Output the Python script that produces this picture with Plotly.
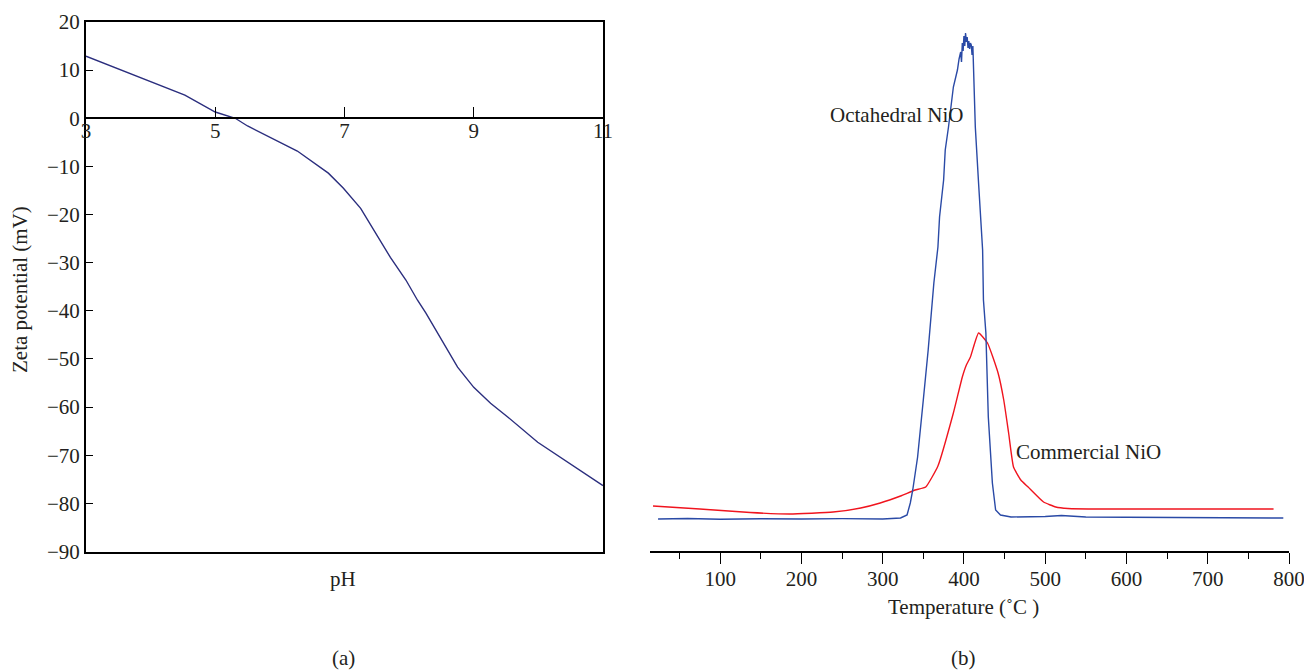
import plotly.graph_objects as go

# ---------------- Data ----------------
# (a) Zeta potential vs pH
ph = [3.0, 4.53, 5.0, 5.31, 5.5, 6.27, 6.75, 6.98, 7.25, 7.71, 7.95, 8.13, 8.26,
      8.75, 9.0, 9.26, 9.53, 9.99, 11.0]
zeta = [12.9, 4.8, 1.3, 0.0, -1.6, -6.8, -11.4, -14.5, -18.7, -28.9, -33.6, -37.8,
        -40.5, -51.7, -55.9, -59.2, -62.1, -67.3, -76.3]
ph_ticks = [3, 5, 7, 9, 11]
zeta_ticks = [-90, -80, -70, -60, -50, -40, -30, -20, -10, 0, 10, 20]

# (b) TPR profiles (arbitrary intensity units)
temp_oct = [23.6, 60, 100, 150, 200, 250, 300, 322, 330, 334, 337, 343, 350, 356,
            363, 366, 368, 370, 375, 377, 381, 387, 392, 394, 396, 397, 398, 399,
            400, 401, 402, 403, 404, 405, 406, 407, 408, 409, 410, 411, 412, 414,
            418, 423, 424, 427, 430, 435, 439, 445, 458, 500, 520, 550, 600, 650,
            700, 750, 793]
int_oct = [32, 32.5, 31.8, 32.3, 32, 32.4, 32, 33, 36, 48, 61, 94, 151, 201,
           268, 292, 304, 334, 371, 401, 424, 464, 481, 492, 499, 489, 508, 500,
           515, 505, 518, 509, 514, 503, 510, 502, 508, 506, 496, 505, 471, 424,
           368, 301, 251, 218, 134, 68, 41, 36, 34, 34.5, 35.5, 34, 33.8, 33.5,
           33.6, 33.4, 33]
temp_com = [17.4, 75, 137, 186, 239, 273, 297, 322, 340, 353, 368, 387, 398, 403,
            408, 418, 429, 442, 449, 455, 461, 470, 479, 498, 513, 528, 569, 692, 781]
int_com = [45, 42, 38.5, 37, 39, 43, 48, 55, 61, 64, 85, 138, 174, 186,
           194, 218, 208, 178, 151, 118, 84, 71, 64, 49, 44, 42.5, 42, 42, 42]
temp_ticks = [100, 200, 300, 400, 500, 600, 700, 800]
temp_minor = [50, 150, 250, 350, 450, 550, 650, 750]

# ---------------- Layout geometry ----------------
W, H = 1304, 671
FONT = "Liberation Serif"
FS = 21
TXT = "#231f20"

def fx(px):
    return px / W

def fy(py):
    return 1 - py / H

ya_dom = [fy(551.5), fy(22)]
y_range = [-90, 20]
zero_pos = ya_dom[0] + (0 - y_range[0]) / (y_range[1] - y_range[0]) * (ya_dom[1] - ya_dom[0])

fig = go.Figure()

fig.add_trace(go.Scatter(x=ph, y=zeta, mode="lines", xaxis="x", yaxis="y",
                         line=dict(color="#2b2e7e", width=1.4), showlegend=False,
                         hoverinfo="skip"))
# carrier for the pH axis drawn on the zero line (invisible)
fig.add_trace(go.Scatter(x=[ph_ticks[0], ph_ticks[-1]], y=[0, 0], mode="lines",
                         xaxis="x3", yaxis="y", line=dict(width=0, color="rgba(0,0,0,0)"),
                         showlegend=False, hoverinfo="skip"))
fig.add_trace(go.Scatter(x=temp_com, y=int_com, mode="lines", xaxis="x2", yaxis="y2",
                         line=dict(color="#f0141e", width=1.4, shape="spline", smoothing=0.4),
                         showlegend=False))
fig.add_trace(go.Scatter(x=temp_oct, y=int_oct, mode="lines", xaxis="x2", yaxis="y2",
                         line=dict(color="#2a4aa6", width=1.4), showlegend=False))

axis_font = dict(family=FONT, size=FS, color=TXT)

fig.update_layout(
    template="none",
    width=W, height=H,
    margin=dict(l=0, r=0, t=0, b=0, pad=0),
    paper_bgcolor="white", plot_bgcolor="white",
    font=axis_font,
    showlegend=False,
    # left panel box (bottom/top)
    xaxis=dict(domain=[fx(86), fx(603)], range=[3, 11], anchor="y", automargin=False,
               showline=True, mirror=True, linecolor="black", linewidth=2,
               ticks="", showticklabels=False, showgrid=False, zeroline=False),
    # left panel axis on the zero line
    xaxis3=dict(overlaying="x", anchor="free", position=zero_pos, side="bottom",
                automargin=False, ticklabeloverflow="allow",
                range=[3, 11], tickvals=ph_ticks, ticks="inside", ticklen=10,
                tickwidth=1.3, tickcolor="black",
                showline=True, linecolor="black", linewidth=2,
                showgrid=False, zeroline=False, tickfont=axis_font,
                ticklabelstandoff=-6),
    yaxis=dict(domain=ya_dom, range=y_range, anchor="x", automargin=False,
               ticklabeloverflow="allow",
               tickvals=zeta_ticks,
               ticktext=[("\u2212" + str(abs(v))) if v < 0 else str(v) for v in zeta_ticks],
               ticks="inside", ticklen=7, tickwidth=1.3, tickcolor="black",
               showline=True, mirror=True, linecolor="black", linewidth=2,
               showgrid=False, zeroline=False, tickfont=axis_font),
    # right panel
    xaxis2=dict(domain=[fx(650), fx(1289)], range=[13.7, 800], anchor="y2",
                automargin=False, ticklabeloverflow="allow",
                tickvals=temp_ticks, ticks="outside", ticklen=11, tickwidth=1.3,
                tickcolor="black", showline=True, linecolor="black", linewidth=1.6,
                showgrid=False, zeroline=False, tickfont=axis_font,
                ticklabelstandoff=-3,
                minor=dict(tickvals=temp_minor, ticks="outside", ticklen=6,
                           tickwidth=1.3, tickcolor="black", showgrid=False)),
    yaxis2=dict(domain=[fy(551), 1.0], range=[0, 551], anchor="x2", visible=False,
                automargin=False),
)

ann = [
    dict(text="Zeta potential (mV)", x=fx(20), y=fy(290), textangle=-90),
    dict(text="pH", x=fx(343), y=fy(579)),
    dict(text="Temperature (\u02daC )", x=fx(963), y=fy(607)),
    dict(text="(a)", x=fx(343), y=fy(658)),
    dict(text="(b)", x=fx(963), y=fy(658)),
]
for a in ann:
    fig.add_annotation(xref="paper", yref="paper", showarrow=False,
                       xanchor="center", yanchor="middle",
                       font=axis_font, **a)

fig.add_annotation(xref="x2", yref="y2", x=233, y=436, text="Octahedral NiO",
                   showarrow=False, xanchor="left", yanchor="middle", font=axis_font)
fig.add_annotation(xref="x2", yref="y2", x=461, y=99, text="Commercial NiO",
                   showarrow=False, xanchor="left", yanchor="middle", font=axis_font)

# remove the default page margin so the figure fills the window exactly
fig.write_html("out.html",
               config={"displayModeBar": False},
               post_script="document.body.style.margin='0px';"
                           "document.body.style.overflow='hidden';")
